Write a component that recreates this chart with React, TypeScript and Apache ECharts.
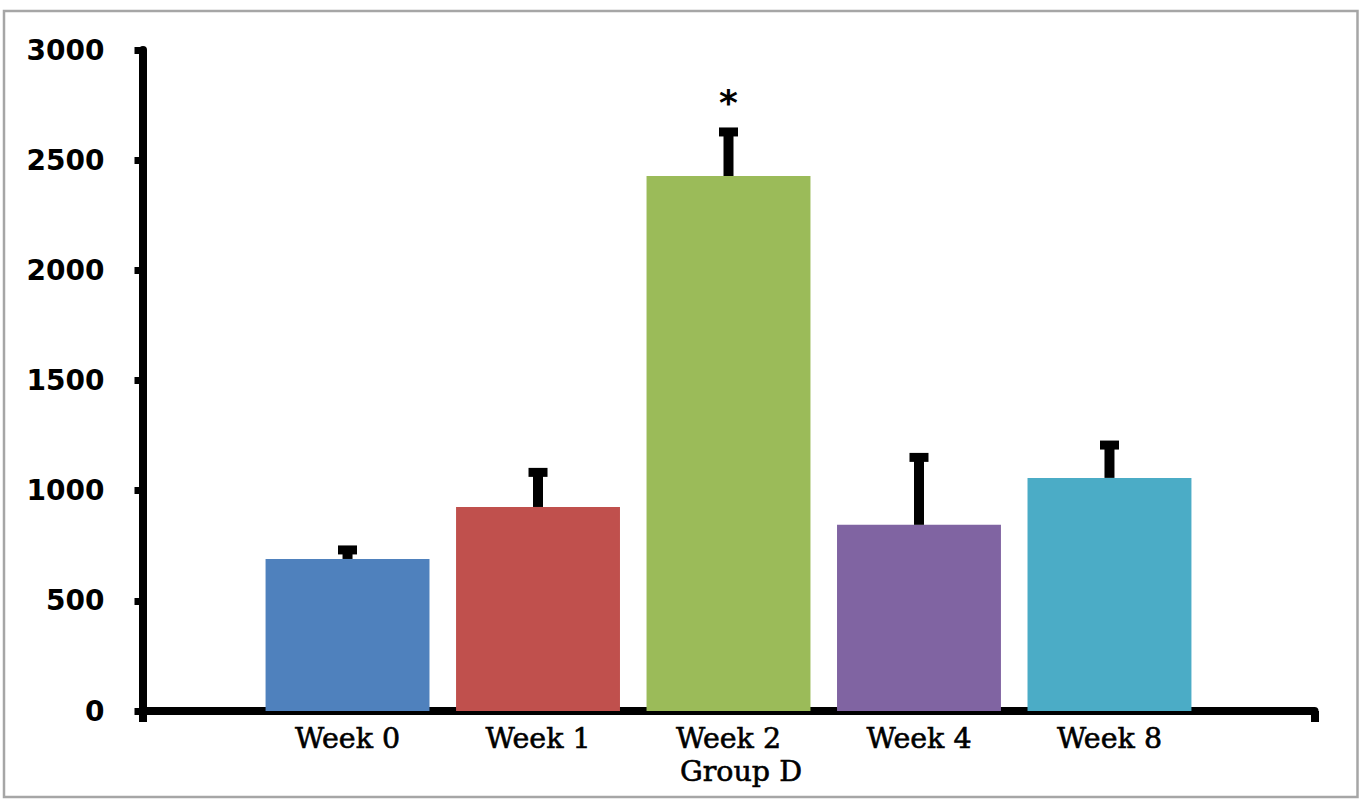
import React, { useEffect, useRef } from "react";
import * as echarts from "echarts";

const categories = ["Group D"];
const weeks = ["Week 0", "Week 1", "Week 2", "Week 4", "Week 8"];
const means = [690, 926, 2428, 845, 1058];
const errorTops = [731, 1083, 2628, 1151, 1207];
const significance = ["", "", "*", "", ""];
const colors = ["#4F81BD", "#C0504D", "#9BBB59", "#8064A2", "#4BACC6"];
const yMin = 0;
const yMax = 3000;
const yInterval = 500;

const CAT_GAP = 0.21;
const BAR_GAP = 0.162;

export default function App() {
  const ref = useRef<HTMLDivElement>(null);
  useEffect(() => {
    if (!ref.current) return;
    const chart = echarts.init(ref.current, undefined, { renderer: "svg" });
    const n = weeks.length;
    const barSeries = weeks.map((w, i) => ({
      type: "bar",
      name: w,
      data: [means[i]],
      itemStyle: { color: colors[i] },
      barGap: (BAR_GAP * 100).toFixed(1) + "%",
      barCategoryGap: CAT_GAP * 100 + "%",
      label: {
        show: true,
        position: "bottom",
        distance: 13,
        formatter: w,
        fontFamily: "DejaVu Serif",
        fontSize: 28.5,
        color: "#000",
        textBorderColor: "#000",
        textBorderWidth: 0.6,
      },
      z: 2,
    }));
    const errSeries = {
      type: "custom",
      z: 5,
      data: weeks.map((w, i) => [0, means[i], errorTops[i], i]),
      encode: { x: 0, y: 2 },
      renderItem: (params: any, api: any) => {
        const idx = api.value(3);
        const base = api.coord([api.value(0), api.value(1)]);
        const top = api.coord([api.value(0), api.value(2)]);
        const bandW = api.size([1, 0])[0];
        const used = bandW * (1 - CAT_GAP);
        const w = used / (n + (n - 1) * BAR_GAP);
        const cx = base[0] - used / 2 + w / 2 + idx * w * (1 + BAR_GAP);
        const children: any[] = [
          {
            type: "rect",
            shape: { x: cx - 5, y: top[1], width: 10, height: base[1] - top[1] },
            style: { fill: "#000" },
          },
          {
            type: "rect",
            shape: { x: cx - 9.5, y: top[1] - 4.5, width: 19, height: 9 },
            style: { fill: "#000" },
          },
        ];
        const s = significance[idx];
        if (s) {
          children.push({
            type: "text",
            x: cx,
            y: top[1] - 29,
            style: {
              text: s,
              fontSize: 36,
              fontWeight: "bold",
              fontFamily: "DejaVu Sans",
              fill: "#000",
              align: "center",
              verticalAlign: "middle",
            },
          });
        }
        return { type: "group", children };
      },
    };
    chart.setOption({
      animation: false,
      backgroundColor: "#fff",
      textStyle: { fontFamily: "DejaVu Sans" },
      graphic: [
        {
          type: "rect",
          shape: { x: 4, y: 11, width: 1353.5, height: 786 },
          style: { fill: "none", stroke: "#A6A6A6", lineWidth: 2.5 },
          z: 0,
        },
      ],
      grid: { left: 142.5, right: 53.5, top: 50, bottom: 90, containLabel: false },
      xAxis: {
        type: "category",
        data: categories,
        axisLine: { show: true, lineStyle: { color: "#000", width: 8 } },
        axisTick: { show: true, length: 11, lineStyle: { color: "#000", width: 8 } },
        axisLabel: {
          margin: 46,
          fontFamily: "DejaVu Serif",
          fontSize: 28.5,
          color: "#000",
          textBorderColor: "#000",
          textBorderWidth: 0.6,
          padding: [0, 0, 0, 25],
        },
        splitLine: { show: false },
      },
      yAxis: {
        type: "value",
        min: yMin,
        max: yMax,
        interval: yInterval,
        axisLine: { show: true, lineStyle: { color: "#000", width: 8 } },
        axisTick: { show: true, length: 8, lineStyle: { color: "#000", width: 7 } },
        axisLabel: {
          margin: 38,
          formatter: (v: number) => String(v),
          fontFamily: "DejaVu Sans",
          fontWeight: "bold",
          fontSize: 28,
          color: "#000",
        },
        splitLine: { show: false },
      },
      series: [...barSeries, errSeries],
    });
    return () => chart.dispose();
  }, []);
  return (
    <div
      ref={ref}
      style={{ position: "absolute", left: 0, top: 0, width: 1368, height: 801 }}
    />
  );
}
